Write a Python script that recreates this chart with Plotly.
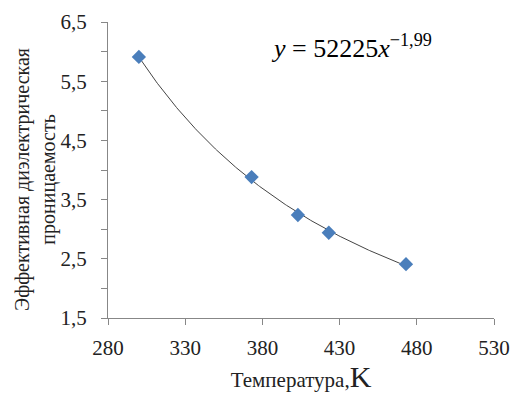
import numpy as np
import plotly.graph_objects as go

temperature_K = [300, 373, 403, 423, 473]
permittivity = [5.91, 3.88, 3.24, 2.94, 2.41]

x_tickvals = [280, 330, 380, 430, 480, 530]
x_ticktext = ["280", "330", "380", "430", "480", "530"]
y_tickvals = [1.5, 2.0, 2.5, 3.0, 3.5, 4.0, 4.5, 5.0, 5.5, 6.0, 6.5]
y_ticktext = ["1,5", " ", "2,5", " ", "3,5", " ", "4,5", " ", "5,5", " ", "6,5"]

equation_text = "<i>y</i> = 52225<i>x</i><sup>−1,99</sup>"
x_title = "Температура,<span style='font-size:30px'>K</span>"
y_title = "Эффективная диэлектрическая<br>проницаемость"

# power-law trendline fitted from the data
lx = np.log(np.array(temperature_K, dtype=float))
ly = np.log(np.array(permittivity, dtype=float))
b, ln_a = np.polyfit(lx, ly, 1)
xs = np.linspace(min(temperature_K), max(temperature_K), 200)
ys = np.exp(ln_a) * xs ** b

FONT = "Liberation Serif"
AXIS_COLOR = "#878787"
TXT = "#222222"

fig = go.Figure()
fig.add_trace(go.Scatter(x=xs, y=ys, mode="lines",
                         line=dict(color="#444444", width=1), showlegend=False,
                         hoverinfo="skip"))
fig.add_trace(go.Scatter(x=temperature_K, y=permittivity, mode="markers",
                         marker=dict(symbol="diamond", size=11, color="#4A7EBB",
                                     line=dict(width=0)),
                         showlegend=False))

fig.add_annotation(text=equation_text, xref="paper", yref="paper",
                   x=0.632, y=0.918, xanchor="center", yanchor="middle",
                   showarrow=False, font=dict(family=FONT, size=26, color="black"))

# y-axis title as a rotated annotation for precise placement
fig.add_annotation(text=y_title, xref="paper", yref="paper",
                   x=-0.188, y=0.468, xanchor="center", yanchor="middle",
                   textangle=-90, showarrow=False,
                   font=dict(family=FONT, size=20, color=TXT))

fig.update_layout(
    width=510, height=393,
    margin=dict(l=108, r=16, t=22, b=75, autoexpand=False),
    paper_bgcolor="white", plot_bgcolor="white",
    font=dict(family=FONT, color=TXT, size=20),
    xaxis=dict(range=[280, 530], tickvals=x_tickvals, ticktext=x_ticktext,
               showgrid=False, zeroline=False, showline=True, linecolor=AXIS_COLOR,
               linewidth=1, ticks="outside", ticklen=6, tickcolor=AXIS_COLOR,
               tickfont=dict(family=FONT, size=21, color=TXT),
               ticklabelstandoff=5, automargin=False,
               title=dict(text=x_title, font=dict(family=FONT, size=21, color=TXT),
                          standoff=20)),
    yaxis=dict(range=[1.5, 6.5], tickvals=y_tickvals, ticktext=y_ticktext,
               showgrid=False, zeroline=False, showline=True, linecolor=AXIS_COLOR,
               linewidth=1, ticks="outside", ticklen=6, tickcolor=AXIS_COLOR,
               tickfont=dict(family=FONT, size=21, color=TXT),
               ticklabelstandoff=10, automargin=False),
)

fig.write_html("out.html")
